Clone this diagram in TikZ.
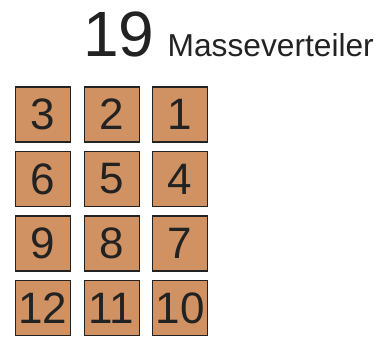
\documentclass[tikz,border=0pt]{standalone}
\usepackage{fontspec}
\setmainfont{Liberation Sans}
\definecolor{boxfill}{HTML}{D09262}
\definecolor{boxline}{HTML}{222222}
\begin{document}
\begin{tikzpicture}[x=1pt,y=-1pt,
  box/.style={draw=boxline, line width=1.2pt, fill=boxfill, minimum size=55pt, inner sep=0pt,
    font=\fontsize{44}{44}\selectfont, text=boxline},
  title/.style={anchor=base west, inner sep=0pt, text=boxline}]
\useasboundingbox (0,0) rectangle (382,338);
\node[title, font=\fontsize{64}{64}\selectfont] (num) at (83,56) {19};
\node[title, font=\fontsize{31.7}{31.7}\selectfont] (name) at (167.5,56) {Masseverteiler};
\foreach \lab [count=\i from 0] in {3,2,1,6,5,4,9,8,7,12,11,10}{
  \pgfmathtruncatemacro{\c}{mod(\i,3)}
  \pgfmathtruncatemacro{\r}{div(\i,3)}
  \node[box] (b\lab) at ({43+68.6*\c},{114.5+64.5*\r}) {\raisebox{-2pt}{\lab}};
}
\end{tikzpicture}
\end{document}
